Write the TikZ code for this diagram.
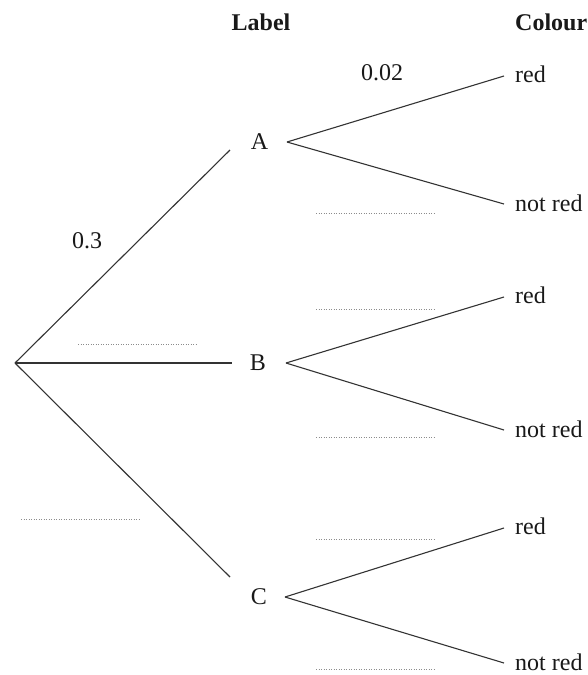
\documentclass[tikz,border=0pt]{standalone}
\usepackage{fontspec}
\setmainfont{Liberation Serif}
\begin{document}
\begin{tikzpicture}[x=1pt,y=-1pt,
  txt/.style={inner sep=0pt, text=black!90, font=\fontsize{24}{28}\selectfont},
  head/.style={inner sep=0pt, text=black!90, font=\fontsize{24}{28}\selectfont\bfseries},
  branch/.style={draw=black!80, line width=1.1pt},
  blank/.style={draw=black!45, line width=0.9pt, dash pattern=on 0.9pt off 1.6pt}]
\useasboundingbox (0,0) rectangle (587,675);

% column headings
\node[head, anchor=base] (hlabel) at (261,30) {Label};
\node[head, anchor=base west] (hcolour) at (515,30) {Colour};

% first stage: label
\coordinate (root) at (15,363);
\node[txt] (A) at (259.5,142) {A};
\node[txt] (B) at (258,363) {B};
\node[txt] (C) at (259,597) {C};
\coordinate (A-in) at (230,150);
\coordinate (B-in) at (232,363);
\coordinate (C-in) at (230,577);
\draw[branch] (root) -- (A-in);
\draw[branch] (root) -- (B-in);
\draw[branch] (root) -- (C-in);

% second stage: colour
\coordinate (A-fork) at (287,142);
\coordinate (B-fork) at (286,363);
\coordinate (C-fork) at (285,597);
\node[txt, anchor=base west] (A-red) at (515,82) {red};
\node[txt, anchor=base west] (A-not) at (515,211) {not red};
\node[txt, anchor=base west] (B-red) at (515,303) {red};
\node[txt, anchor=base west] (B-not) at (515,437) {not red};
\node[txt, anchor=base west] (C-red) at (515,534) {red};
\node[txt, anchor=base west] (C-not) at (515,670) {not red};
\foreach \s in {A,B,C}{
  \draw[branch] (\s-fork) -- ([shift={(-11pt,6pt)}]\s-red.base west);
  \draw[branch] (\s-fork) -- ([shift={(-11pt,7pt)}]\s-not.base west);
}

% given probabilities
\node[txt, anchor=base] (pA) at (87,248) {0.3};
\node[txt, anchor=base] (pAred) at (382,80) {0.02};

% answer spaces
\draw[blank] (78,344) -- (197,344);
\draw[blank] (21,519) -- (139,519);
\draw[blank] (316,213) -- (434,213);
\draw[blank] (316,309) -- (434,309);
\draw[blank] (316,437) -- (434,437);
\draw[blank] (316,539) -- (434,539);
\draw[blank] (316,669) -- (434,669);
\end{tikzpicture}
\end{document}
